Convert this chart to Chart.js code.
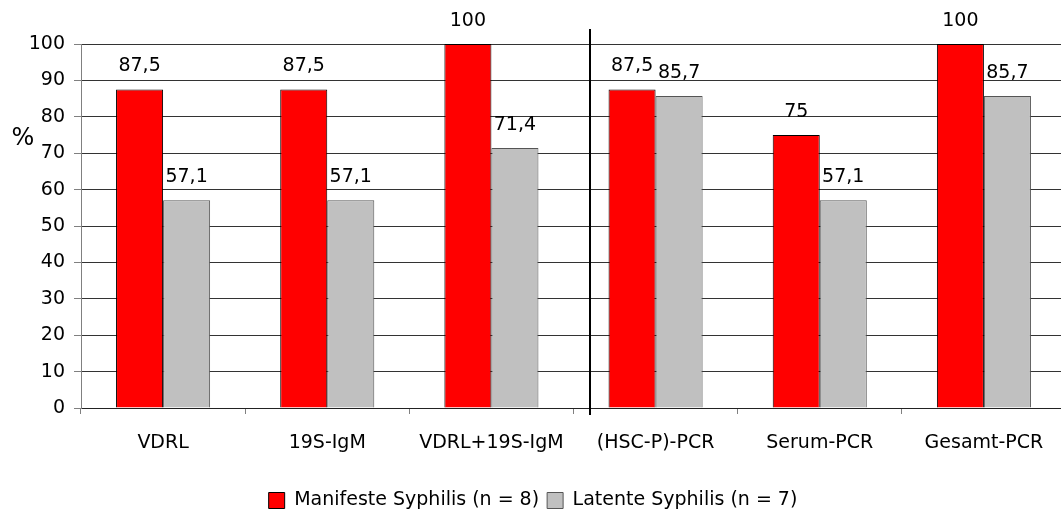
<!DOCTYPE html>
<html>
<head>
<meta charset="utf-8">
<script src="https://cdn.jsdelivr.net/npm/chart.js@4.4.1/dist/chart.umd.min.js"></script>
<style>
  html, body { margin: 0; padding: 0; background: #ffffff; overflow: hidden; }
  #wrap { width: 1061px; height: 520px; overflow: hidden; }
</style>
</head>
<body>
<div id="wrap"><canvas id="myChart_syph" width="1066" height="520"></canvas></div>
<script>
  "use strict";

  // Daten
  const categories = ['VDRL', '19S-IgM', 'VDRL+19S-IgM', '(HSC-P)-PCR', 'Serum-PCR', 'Gesamt-PCR'];
  const manifeste = [87.5, 87.5, 100, 87.5, 75, 100];
  const latente = [57.1, 57.1, 71.4, 85.7, 57.1, 85.7];
  const seriesNames = ['Manifeste Syphilis (n = 8)', 'Latente Syphilis (n = 7)'];
  const yTicks = [0, 10, 20, 30, 40, 50, 60, 70, 80, 90, 100];

  const fontFamily = '"DejaVu Sans", Verdana, sans-serif';

  function deNumber(v) {
    return String(v).replace('.', ',');
  }

  // value labels above bars
  const valueLabels = {
    id: 'valueLabels',
    afterDatasetsDraw(chart) {
      const ctx = chart.ctx;
      ctx.save();
      ctx.font = '19px ' + fontFamily;
      ctx.fillStyle = '#000000';
      ctx.textAlign = 'center';
      ctx.textBaseline = 'middle';
      chart.data.datasets.forEach((ds, i) => {
        chart.getDatasetMeta(i).data.forEach((bar, j) => {
          ctx.fillText(deNumber(ds.data[j]), bar.x, bar.y - 23);
        });
      });
      ctx.restore();
    }
  };

  // divider line between serology and PCR, plus the "%" label
  const extras = {
    id: 'extras',
    afterDatasetsDraw(chart) {
      const ctx = chart.ctx;
      const xs = chart.scales.x;
      const ys = chart.scales.y;
      const step = xs.getPixelForValue(1) - xs.getPixelForValue(0);
      const lineX = Math.round((xs.getPixelForValue(2) + xs.getPixelForValue(3)) / 2 + step * 0.1);
      ctx.save();
      ctx.strokeStyle = '#000000';
      ctx.lineWidth = 2;
      ctx.beginPath();
      ctx.moveTo(lineX, chart.chartArea.top - 15);
      ctx.lineTo(lineX, chart.chartArea.bottom + 7);
      ctx.stroke();

      ctx.font = '24px ' + fontFamily;
      ctx.fillStyle = '#000000';
      ctx.textAlign = 'center';
      ctx.textBaseline = 'middle';
      ctx.fillText('%', 23, ys.getPixelForValue(74));
      ctx.restore();
    }
  };

  const data_syph = {
    labels: categories,
    datasets: [
      {
        label: seriesNames[0],
        data: manifeste,
        backgroundColor: '#ff0000',
        borderColor: '#000000',
        borderWidth: 1
      },
      {
        label: seriesNames[1],
        data: latente,
        backgroundColor: '#c0c0c0',
        borderColor: '#555555',
        borderWidth: 1
      }
    ]
  };

  const config_syph = {
    type: 'bar',
    data: data_syph,
    options: {
      responsive: false,
      animation: false,
      devicePixelRatio: 1,
      datasets: {
        bar: {
          categoryPercentage: 0.573,
          barPercentage: 1.0
        }
      },
      layout: {
        padding: { top: 44, left: 0, right: 0, bottom: 0 }
      },
      scales: {
        x: {
          grid: {
            drawOnChartArea: false,
            drawTicks: true,
            tickLength: 6,
            color: '#808080',
            offset: true
          },
          border: { display: true, color: '#222222', width: 1 },
          ticks: {
            color: '#000000',
            font: { family: fontFamily, size: 19 },
            padding: 18,
            maxRotation: 0,
            autoSkip: false
          },
          afterFit: function (scale) {
            scale.height = 75;
          }
        },
        y: {
          min: 0,
          max: 100,
          afterBuildTicks: function (scale) {
            scale.ticks = yTicks.map(v => ({ value: v }));
          },
          grid: {
            color: '#333333',
            tickColor: '#808080',
            tickLength: 7
          },
          border: { display: true, color: '#808080', width: 1 },
          ticks: {
            color: '#000000',
            font: { family: fontFamily, size: 19 },
            padding: 9
          },
          afterFit: function (scale) {
            scale.width = 81;
          }
        }
      },
      plugins: {
        legend: {
          position: 'bottom',
          labels: {
            color: '#000000',
            font: { family: fontFamily, size: 19 },
            boxWidth: 16,
            boxHeight: 16,
            padding: 8
          }
        },
        tooltip: { enabled: false },
        title: { display: false }
      }
    },
    plugins: [valueLabels, extras]
  };

  const ctx_syph = document.getElementById('myChart_syph');
  const myChart_syph = new Chart(ctx_syph, config_syph);
</script>
</body>
</html>
